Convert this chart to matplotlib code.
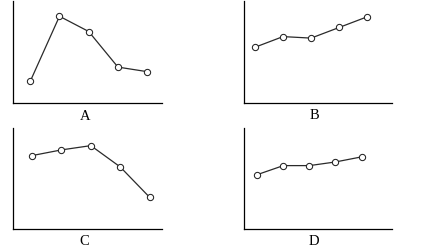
import numpy as np
import matplotlib.pyplot as plt

plt.rcParams['font.family'] = ['Liberation Serif', 'DejaVu Serif']

x = [1, 2, 3, 4, 5]

# heights (axis runs 0..10)
a_vals = [2.1, 8.5, 7.0, 3.5, 3.05]
b_vals = [5.45, 6.5, 6.35, 7.4, 8.45]
c_vals = [7.27, 7.83, 8.25, 6.15, 3.16]
d_vals = [5.39, 6.28, 6.28, 6.64, 7.14]

labels = ["A", "B", "C", "D"]

fig = plt.figure(figsize=(4.25, 2.51), dpi=100)

# axes boxes in figure fractions, x limits per panel
boxes = [
    [0.0313, 0.587, 0.350, 0.405],
    [0.5734, 0.587, 0.349, 0.405],
    [0.0313, 0.0825, 0.349, 0.404],
    [0.5734, 0.0825, 0.349, 0.404],
]
xlims = [(0.42, 5.51), (0.6, 5.88), (0.36, 5.41), (0.48, 6.17)]
label_pos = [(0.200, 0.535), (0.7395, 0.538), (0.198, 0.037), (0.7395, 0.037)]

for vals, box, xl, lab, lp in zip([a_vals, b_vals, c_vals, d_vals],
                                  boxes, xlims, labels, label_pos):
    ax = fig.add_axes(box)
    ax.plot(x, vals, color="#2a2a2a", lw=0.9, marker="o", ms=4.5,
            mfc="white", mec="#222222", mew=0.75)
    ax.set_xlim(*xl)
    ax.set_ylim(0, 10)
    ax.spines["top"].set_visible(False)
    ax.spines["right"].set_visible(False)
    ax.spines["left"].set_linewidth(0.9)
    ax.spines["bottom"].set_linewidth(0.9)
    ax.set_xticks([])
    ax.set_yticks([])
    fig.text(lp[0], lp[1], lab, ha="center", va="center", fontsize=10.5)

fig.savefig("out.png", dpi=100)
